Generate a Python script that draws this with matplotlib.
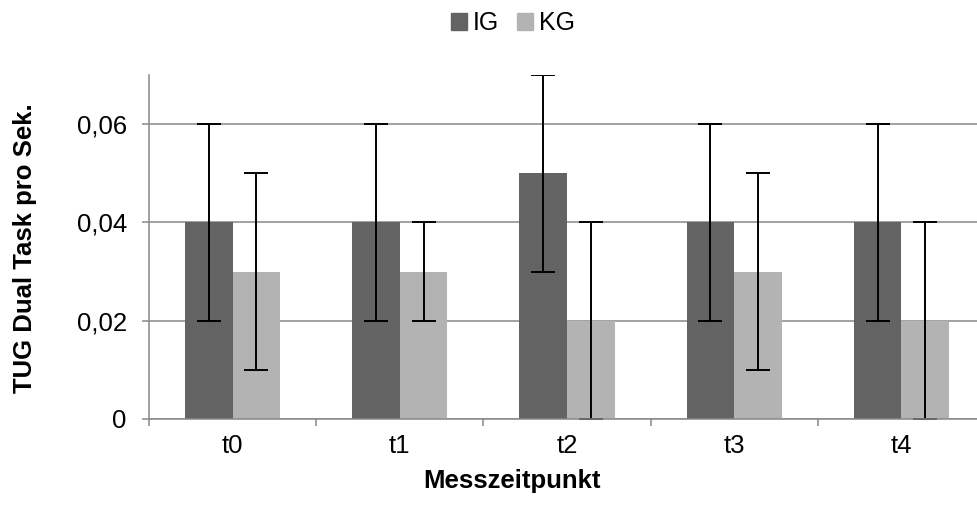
"""TUG Dual Task per second, IG vs KG across measurement points."""

import matplotlib
matplotlib.use('Agg')
import matplotlib.pyplot as plt
import numpy as np
from matplotlib.patches import Patch

plt.rcParams['font.family'] = ['Liberation Sans', 'DejaVu Sans']

# Data
timepoints = ['t0', 't1', 't2', 't3', 't4']
ig_mean = [0.04, 0.04, 0.05, 0.04, 0.04]
ig_sd = [0.02, 0.02, 0.02, 0.02, 0.02]
kg_mean = [0.03, 0.03, 0.02, 0.03, 0.02]
kg_sd = [0.02, 0.01, 0.02, 0.02, 0.02]

IG_COLOUR = '#636363'
KG_COLOUR = '#b3b3b3'
GRID_COLOUR = '#888888'

W, H = 977, 505
fig = plt.figure(figsize=(W / 100, H / 100), dpi=100)
ax = fig.add_axes([149 / W, (H - 419) / H, (985 - 149) / W, (419 - 75) / H])

x = np.arange(len(timepoints))
bw = 0.285
err_kw = dict(ecolor='black', elinewidth=1.4, capsize=8.6, capthick=1.4)
ax.bar(x - bw / 2, ig_mean, bw, color=IG_COLOUR, yerr=ig_sd, error_kw=err_kw,
       zorder=2)
ax.bar(x + bw / 2, kg_mean, bw, color=KG_COLOUR, yerr=kg_sd, error_kw=err_kw,
       zorder=2)

ax.set_xlim(-0.5, len(timepoints) - 0.5)
ax.set_ylim(0, 0.07)
ax.set_yticks([0, 0.02, 0.04, 0.06])
ax.set_yticklabels(['0', '0,02', '0,04', '0,06'])
ax.yaxis.grid(True, color=GRID_COLOUR, linewidth=1.1)
ax.set_axisbelow(True)

# category boundaries carry the tick marks, labels sit at the centres
ax.set_xticks(np.arange(-0.5, len(timepoints)), labels=[])
ax.set_xticks(x, labels=timepoints, minor=True)
ax.tick_params(axis='x', which='minor', length=0, pad=11, labelsize=18.5)
ax.tick_params(axis='x', which='major', length=5, width=1.1,
               color=GRID_COLOUR, direction='out')
ax.tick_params(axis='y', length=5, width=1.1, color=GRID_COLOUR, pad=11,
               labelsize=18.5)

for side in ('top', 'right'):
    ax.spines[side].set_visible(False)
for side in ('left', 'bottom'):
    ax.spines[side].set_color(GRID_COLOUR)
    ax.spines[side].set_linewidth(1.1)

fig.text(25 / W, 1 - 248 / H, 'TUG Dual Task pro Sek.', rotation=90,
         ha='center', va='center', fontsize=18.5, fontweight='bold')
fig.text(512 / W, 1 - 481 / H, 'Messzeitpunkt', ha='center', va='center',
         fontsize=18.5, fontweight='bold')

handles = [Patch(color=IG_COLOUR, label='IG'), Patch(color=KG_COLOUR, label='KG')]
fig.legend(handles=handles, loc='center', bbox_to_anchor=(513 / W, 1 - 23 / H),
           ncol=2, frameon=False, fontsize=18, handlelength=0.65,
           handleheight=0.65, handletextpad=0.25, columnspacing=0.7,
           borderpad=0)

fig.savefig('out.png', dpi=100, facecolor='white')
plt.close(fig)
